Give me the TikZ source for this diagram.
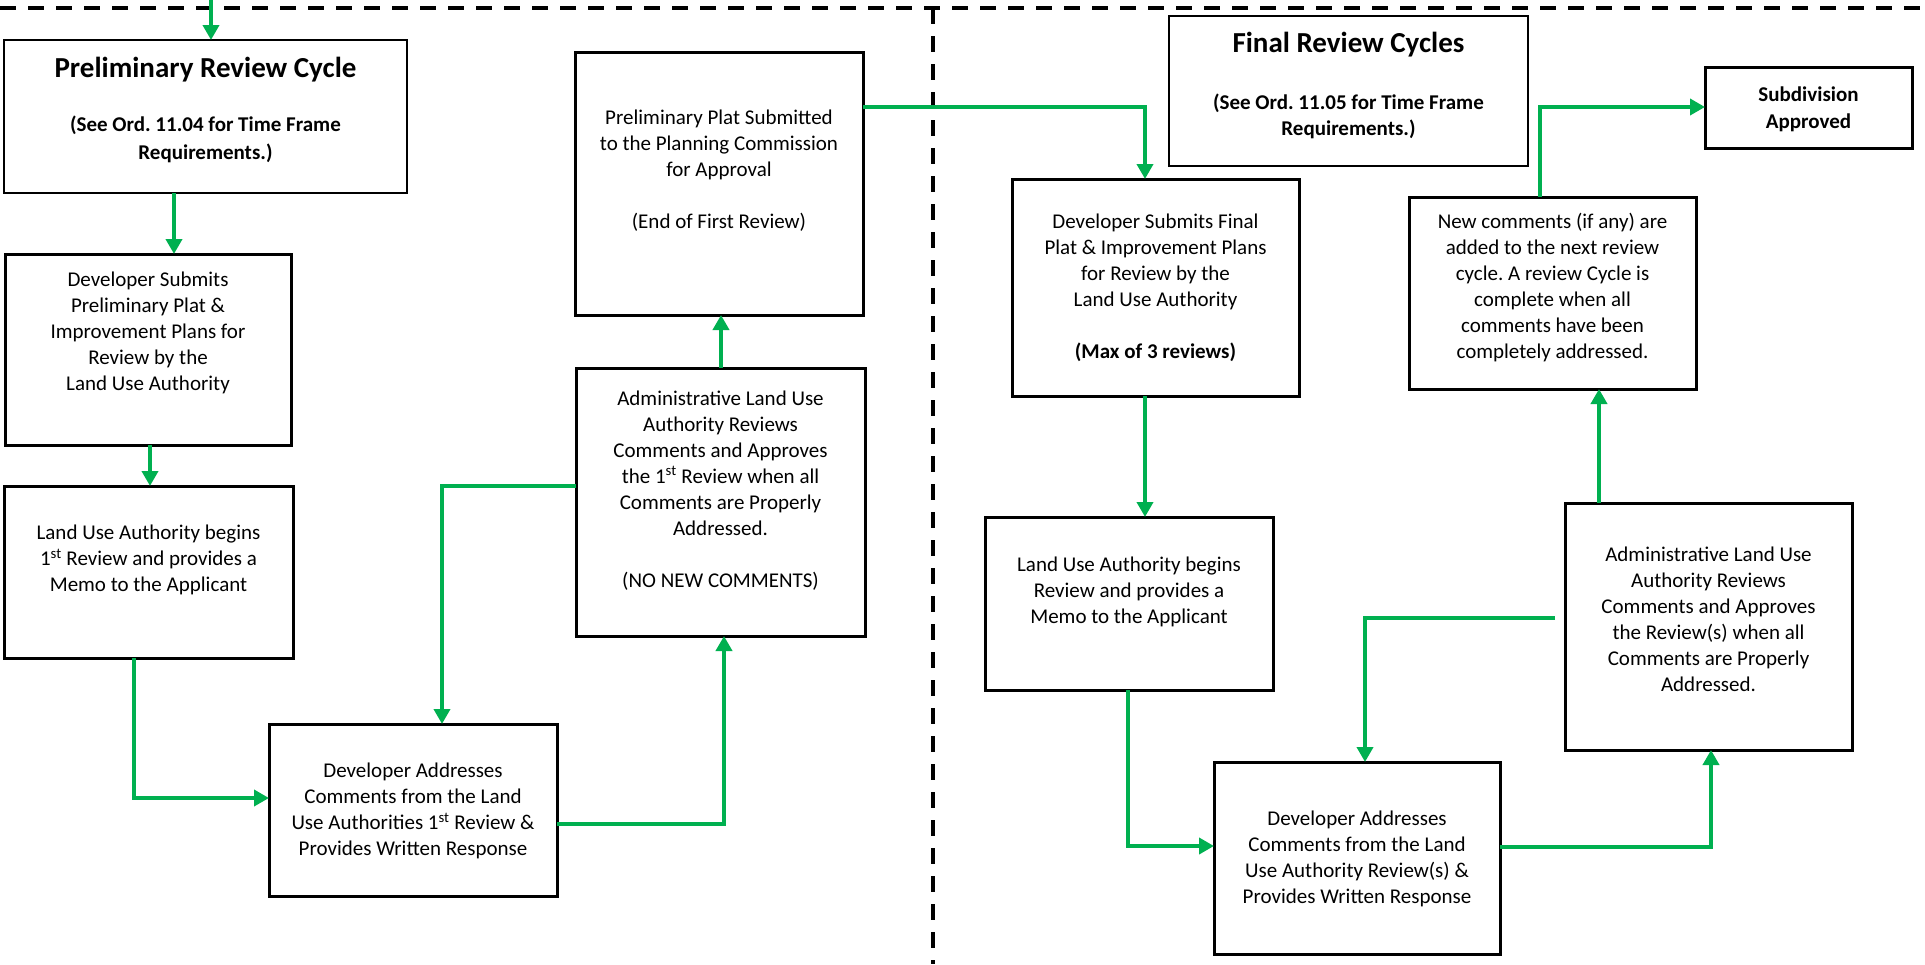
\documentclass[tikz,border=0pt]{standalone}
\usepackage{fontspec}
\setmainfont{Carlito}
\usetikzlibrary{arrows.meta,calc}
\definecolor{flowgreen}{RGB}{0,176,80}
\frenchspacing
\tikzset{
  box/.style={draw, rectangle, line width=3pt, inner sep=0pt, outer sep=0pt},
  thinbox/.style={box, line width=1.5pt},
  txt/.style={align=center, inner sep=0pt, font=\fontsize{21}{26}\selectfont},
  arr/.style={draw=flowgreen, line width=4pt, -{Triangle[length=15pt,width=16pt]}},
  sepline/.style={line width=4pt, dash pattern=on 16pt off 12pt}
}
\begin{document}
\begin{tikzpicture}[x=1pt,y=-1pt]
\useasboundingbox (0,0) rectangle (1925,964);
% separators
\draw[sepline] (0,8) -- (1925,8);
\draw[sepline] (933,8) -- (933,964);

% boxes
\node[thinbox, minimum width=403pt, minimum height=153pt] (A) at (205.5,116.5) {};
\node[box, minimum width=286pt, minimum height=191pt] (B) at (148,349.5) {};
\node[box, minimum width=288pt, minimum height=263pt] (C) at (719,183.5) {};
\node[box, minimum width=289pt, minimum height=268pt] (D) at (720.5,502) {};
\node[box, minimum width=289pt, minimum height=172pt] (L) at (148.5,572) {};
\node[box, minimum width=288pt, minimum height=172pt] (M) at (413,810) {};
\node[thinbox, minimum width=359pt, minimum height=150pt] (F) at (1348.5,91) {};
\node[box, minimum width=207pt, minimum height=81pt] (G) at (1808.5,107.5) {};
\node[box, minimum width=287pt, minimum height=217pt] (E) at (1155.5,287.5) {};
\node[box, minimum width=287pt, minimum height=192pt] (H) at (1552.5,293) {};
\node[box, minimum width=288pt, minimum height=173pt] (J) at (1129,603.5) {};
\node[box, minimum width=287pt, minimum height=247pt] (I) at (1708.5,626.5) {};
\node[box, minimum width=286pt, minimum height=192pt] (K) at (1357,858) {};

% texts
\node[txt, font=\fontsize{29}{35}\selectfont\bfseries] (tA1) at (205.5,70) {Preliminary Review Cycle};
\node[txt, font=\fontsize{21}{28}\selectfont\bfseries] (tA2) at (205.5,139) {(See Ord. 11.04 for Time Frame\\Requirements.)};
\node[txt] (tB) at (148,333) {Developer Submits\\Preliminary Plat \&\\Improvement Plans for\\Review by the\\Land Use Authority};
\node[txt] (tL) at (148.5,560) {Land Use Authority begins\\1\textsuperscript{st} Review and provides a\\Memo to the Applicant};
\node[txt] (tM) at (413,811) {Developer Addresses\\Comments from the Land\\Use Authorities 1\textsuperscript{st} Review \&\\Provides Written Response};
\node[txt] (tC) at (719,170.5) {Preliminary Plat Submitted\\to the Planning Commission\\for Approval\\[26pt](End of First Review)};
\node[txt] (tD) at (720.5,490.5) {Administrative Land Use\\Authority Reviews\\Comments and Approves\\the 1\textsuperscript{st} Review when all\\Comments are Properly\\Addressed.\\[26pt](NO NEW COMMENTS)};
\node[txt, font=\fontsize{29}{35}\selectfont\bfseries] (tF1) at (1348.5,45) {Final Review Cycles};
\node[txt, font=\fontsize{21}{26}\selectfont\bfseries] (tF2) at (1348.5,116) {(See Ord. 11.05 for Time Frame\\Requirements.)};
\node[txt, font=\fontsize{21}{27}\selectfont\bfseries] (tG) at (1808.5,109.5) {Subdivision\\Approved};
\node[txt] (tE) at (1155.5,288) {Developer Submits Final\\Plat \& Improvement Plans\\for Review by the\\Land Use Authority\\[26pt]\textbf{(Max of 3 reviews)}};
\node[txt] (tH) at (1552.5,288) {New comments (if any) are\\added to the next review\\cycle. A review Cycle is\\complete when all\\comments have been\\completely addressed.};
\node[txt] (tJ) at (1129,592) {Land Use Authority begins\\Review and provides a\\Memo to the Applicant};
\node[txt] (tI) at (1708.5,619) {Administrative Land Use\\Authority Reviews\\Comments and Approves\\the Review(s) when all\\Comments are Properly\\Addressed.};
\node[txt] (tK) at (1357,859) {Developer Addresses\\Comments from the Land\\Use Authority Review(s) \&\\Provides Written Response};

% connectors
\coordinate (start) at (211,0);
\draw[arr] (start) -- (start |- A.north);
\draw[arr] (174,0 |- A.south) -- (174,0 |- B.north);
\draw[arr] (150,0 |- B.south) -- (150,0 |- L.north);
\draw[arr] (134,0 |- L.south) |- (M.west |- 0,798);
\draw[arr] (M.east |- 0,824) -| (724,0 |- D.south);
\draw[arr] (D.west |- 0,486) -| (442,0 |- M.north);
\draw[arr] (721,0 |- D.north) -- (721,0 |- C.south);
\draw[arr] (C.east |- 0,107) -| (1145,0 |- E.north);
\draw[arr] (1145,0 |- E.south) -- (1145,0 |- J.north);
\draw[arr] (1128,0 |- J.south) |- (K.west |- 0,846);
\draw[arr] (K.east |- 0,847) -| (1711,0 |- I.south);
\coordinate (Iout) at ([xshift=-10pt]I.west);
\draw[arr] (Iout |- 0,618) -| (1365,0 |- K.north);
\draw[arr] (1599,0 |- I.north) -- (1599,0 |- H.south);
\draw[arr] (1540,0 |- H.north) |- (G.west |- 0,107);
\end{tikzpicture}
\end{document}
